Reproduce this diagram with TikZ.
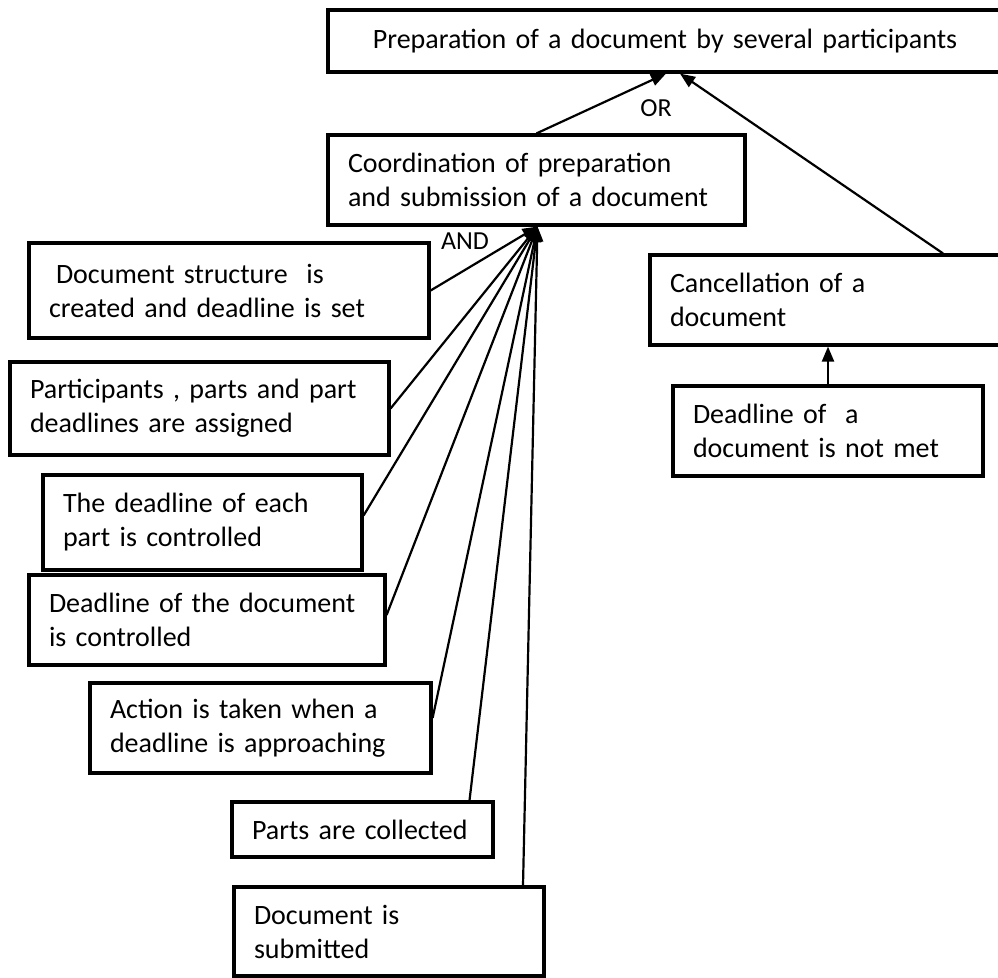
\documentclass[tikz,border=0pt]{standalone}
\usepackage{fontspec}
\setmainfont{Carlito}
\usetikzlibrary{arrows.meta}
\begin{document}
\begin{tikzpicture}[x=1pt,y=-1pt,
  box/.style={draw=black, line width=3.2pt, rectangle, align=left,
    inner xsep=20pt, inner ysep=0pt, font=\fontsize{28}{34}\selectfont},
  link/.style={draw=black, line width=2.2pt, -{Triangle[length=15pt,width=12pt]}},
  lbl/.style={font=\fontsize{26}{30}\selectfont, inner sep=0pt}]
\useasboundingbox (0,0) rectangle (998,977);
\fill[white] (0,0) rectangle (998,977);

% goal and sub-goals
\node[box, align=center, text width=634pt, minimum height=62pt] (top) at (665,41)
  {Preparation of a document by several participants};
\node[box, text width=377pt, minimum height=90pt] (coord) at (536.5,180)
  {Coordination of preparation\\and submission of a document};
\node[box, text width=312pt, minimum height=90pt] (canc) at (826,300)
  {Cancellation of a\\document};
\node[box, text width=270pt, minimum height=90pt] (dla) at (828,431)
  {Deadline of\ \ a\\document is not met};

% steps of the coordination
\node[box, text width=360pt, minimum height=95pt] (ds) at (229,290.5)
  {\hspace{7pt}Document structure\ \ is\\created and deadline is set};
\node[box, text width=339pt, minimum height=93pt] (pa) at (199.5,408.5)
  {Participants , parts and part\\deadlines are assigned};
\node[box, text width=279pt, minimum height=95pt] (de) at (202.5,522.5)
  {The deadline of each\\part is controlled};
\node[box, text width=316pt, minimum height=90pt] (dd) at (207,620)
  {Deadline of the document\\is controlled};
\node[box, text width=301pt, minimum height=90pt] (act) at (260.5,728)
  {Action is taken when a\\deadline is approaching};
\node[box, text width=221pt, minimum height=55pt] (parts) at (362.5,829.5)
  {Parts are collected};
\node[box, text width=270pt, minimum height=89pt] (sub) at (389,931.5)
  {Document is\\submitted};

% OR decomposition
\draw[link] (coord.north) -- ([xshift=1pt]top.south);
\draw[link] ([xshift=117pt]canc.north) -- ([xshift=15pt]top.south);
\node[lbl] (or) at (656,108) {OR};

\draw[link] (dla.north) -- (dla.north |- canc.south);

% AND decomposition
\coordinate (apex) at ([xshift=1pt]coord.south);
\draw[link] (ds.east) -- (apex);
\draw[link] (pa.east) -- (apex);
\draw[link] ([yshift=7pt]de.east) -- (apex);
\draw[link] ([yshift=5pt]dd.east) -- (apex);
\draw[link] ([yshift=10pt]act.east) -- (apex);
\draw[link] ([xshift=107pt]parts.north) -- (apex);
\draw[link] ([xshift=134pt]sub.north) -- (apex);
\node[lbl] (and) at (465,241) {AND};
\end{tikzpicture}
\end{document}
